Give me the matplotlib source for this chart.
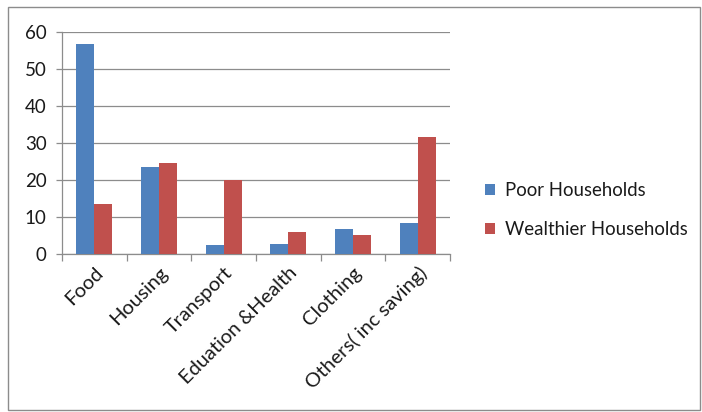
import matplotlib.pyplot as plt
import numpy as np
from matplotlib.patches import Rectangle

categories = ['Food', 'Housing', 'Transport', 'Eduation &Health', 'Clothing', 'Others( inc saving)']
poor = [56.8, 23.5, 2.4, 2.7, 6.8, 8.5]
wealthy = [13.4, 24.6, 20.0, 5.9, 5.1, 31.7]

plt.rcParams['font.family'] = ['Lato', 'DejaVu Sans']

fig = plt.figure(figsize=(7.02, 4.12), dpi=100)
ax = fig.add_axes([0.0883, 0.3835, 0.5527, 0.5388])

x = np.arange(len(categories))
w = 0.28
ax.bar(x - w / 2, poor, w, color='#4F81BD', label='Poor Households', zorder=3)
ax.bar(x + w / 2, wealthy, w, color='#C0504D', label='Wealthier Households', zorder=3)

ax.set_xlim(-0.5, len(categories) - 0.5)
ax.set_ylim(0, 60)
ax.set_yticks(range(0, 61, 10))
ax.grid(True, axis='y', color='#8c8c8c', linewidth=0.9, zorder=0)

# category boundary ticks
ax.set_xticks(np.arange(-0.5, len(categories), 1.0))
ax.set_xticklabels([])
ax.set_xticks(x, minor=True)
ax.set_xticklabels(categories, minor=True, rotation=45, ha='right',
                   rotation_mode='anchor', fontsize=14.5, color='#1a1a1a')
ax.tick_params(axis='x', which='major', length=5, color='#8c8c8c', width=0.9)
ax.tick_params(axis='x', which='minor', length=0, pad=7)
ax.tick_params(axis='y', length=4, color='#8c8c8c', width=0.9, labelsize=13.5,
               labelcolor='#1a1a1a', pad=7)

for s in ['top', 'right']:
    ax.spines[s].set_visible(False)
for s in ['left', 'bottom']:
    ax.spines[s].set_color('#8c8c8c')
    ax.spines[s].set_linewidth(0.9)

fig.legend(loc='center left', bbox_to_anchor=(0.667, 0.49), frameon=False,
           fontsize=13.4, handlelength=0.55, handleheight=0.55, handletextpad=0.5,
           labelspacing=1.2, labelcolor='#1a1a1a')

fig.patches.append(Rectangle((0.011, 0.005), 0.986, 0.978, transform=fig.transFigure,
                             fill=False, edgecolor='#8c8c8c', linewidth=1.0))

fig.savefig('out.png', dpi=100)
